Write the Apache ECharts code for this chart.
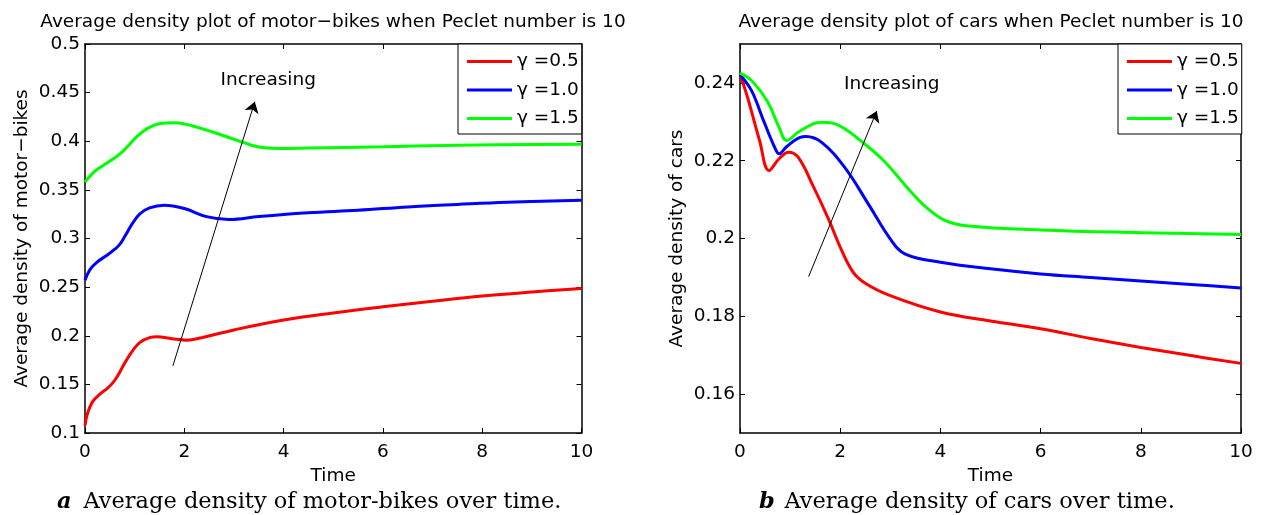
<!DOCTYPE html>
<html><head><meta charset="utf-8">
<script src="https://cdn.jsdelivr.net/npm/echarts@6/dist/echarts.min.js"></script>
<style>html,body{margin:0;padding:0;background:#fff}#c{width:1261px;height:515px}</style>
</head><body><div id="c"></div>
<script>
// ---------- data ----------
const seriesNames = ['γ =0.5', 'γ =1.0', 'γ =1.5'];
const seriesColors = ['#ff0000', '#0000ff', '#00ff00'];

// Plot a: motor-bikes
const bikeRedT   = [0, 0.05, 0.15, 0.3, 0.45, 0.55, 0.65, 0.8, 0.95, 1.1, 1.3, 1.45, 1.75, 2.05, 2.35, 3.0, 4.0, 5.0, 6.0, 7.0, 8.0, 9.0, 10];
const bikeRedV   = [0.108, 0.12, 0.132, 0.14, 0.146, 0.151, 0.158, 0.172, 0.184, 0.193, 0.198, 0.199, 0.197, 0.1955, 0.198, 0.206, 0.2162, 0.2235, 0.2298, 0.2355, 0.2408, 0.245, 0.2487];
const bikeBlueT  = [0, 0.1, 0.25, 0.45, 0.6, 0.7, 0.8, 0.95, 1.1, 1.3, 1.6, 2.0, 2.45, 2.9, 3.5, 4.5, 5.5, 6.5, 7.5, 8.5, 10];
const bikeBlueV  = [0.257, 0.268, 0.276, 0.283, 0.289, 0.294, 0.302, 0.315, 0.325, 0.3315, 0.3342, 0.3308, 0.3225, 0.3195, 0.3225, 0.3265, 0.329, 0.3325, 0.335, 0.3372, 0.3393];
const bikeGreenT = [0, 0.15, 0.3, 0.45, 0.6, 0.75, 0.9, 1.05, 1.25, 1.5, 1.8, 2.15, 2.6, 3.15, 3.5, 3.9, 4.5, 6.0, 7.5, 10];
const bikeGreenV = [0.358, 0.367, 0.373, 0.378, 0.383, 0.389, 0.397, 0.405, 0.413, 0.418, 0.419, 0.416, 0.409, 0.3995, 0.394, 0.3926, 0.393, 0.3943, 0.396, 0.397];

// Plot b: cars
const carRedT   = [0, 0.15, 0.39, 0.58, 0.78, 0.97, 1.16, 1.47, 1.78, 2.0, 2.25, 2.5, 3.0, 4.0, 5.0, 6.0, 7.0, 8.0, 9.0, 10];
const carRedV   = [0.2423, 0.2363, 0.2252, 0.2175, 0.2205, 0.2222, 0.2209, 0.2132, 0.2046, 0.1978, 0.1915, 0.1885, 0.1853, 0.1811, 0.1788, 0.1768, 0.1743, 0.172, 0.1699, 0.1679];
const carBlueT  = [0, 0.23, 0.47, 0.7, 0.78, 0.93, 1.2, 1.32, 1.63, 2.09, 2.56, 3.02, 3.3, 4.0, 5.0, 6.0, 7.0, 8.0, 9.0, 10];
const carBlueV  = [0.2421, 0.238, 0.2303, 0.2232, 0.2218, 0.2236, 0.226, 0.2262, 0.2247, 0.2183, 0.2089, 0.1995, 0.196, 0.1939, 0.1922, 0.1909, 0.19, 0.1891, 0.1882, 0.1873];
const carGreenT = [0, 0.23, 0.54, 0.78, 0.93, 1.16, 1.47, 1.63, 1.94, 2.4, 2.87, 3.33, 3.72, 4.1, 4.57, 6.0, 8.0, 10];
const carGreenV = [0.2425, 0.2406, 0.2354, 0.2286, 0.2252, 0.2273, 0.2295, 0.2299, 0.2293, 0.2252, 0.22, 0.2132, 0.208, 0.2046, 0.2032, 0.2022, 0.2015, 0.201];

// axis ticks
const xTicks = [0, 2, 4, 6, 8, 10];
const bikeYTicks = [0.1, 0.15, 0.2, 0.25, 0.3, 0.35, 0.4, 0.45, 0.5];
const carYTicks = [0.16, 0.18, 0.2, 0.22, 0.24];

// annotations (data units)
const bikeArrow = [[1.77, 0.169], [3.42, 0.4407]];
const bikeTextPos = [3.69, 0.463];
const carArrow = [[1.37, 0.1902], [2.73, 0.2328]];
const carTextPos = [3.03, 0.2397];

// texts
const titleA = 'Average density plot of motor\u2212bikes when Peclet number is 10';
const titleB = 'Average density plot of cars when Peclet number is 10';
const yNameA = 'Average density of motor\u2212bikes';
const yNameB = 'Average density of cars';
const captionA = 'Average density of motor-bikes over time.';
const captionB = 'Average density of cars over time.';

// ---------- chart ----------
const FONT = 'DejaVu Sans';
const FS = 18.5;
const zip = (t, v) => t.map((x, i) => [x, v[i]]);

function xAxes(grid) {
  const base = {
    gridIndex: grid, type: 'value', min: 0, max: 10, interval: 2,
    axisLine: { show: true, onZero: false, lineStyle: { color: '#000', width: 1.5 } },
    axisTick: { show: true, inside: true, length: 5, lineStyle: { color: '#000', width: 1 } },
    splitLine: { show: false }
  };
  return [
    Object.assign({}, base, {
      position: 'bottom',
      axisLabel: { show: true, color: '#000', fontSize: FS, fontFamily: FONT, margin: 10,
        customValues: xTicks },
      name: 'Time', nameLocation: 'middle', nameGap: 28,
      nameTextStyle: { color: '#000', fontSize: FS, fontFamily: FONT }
    }),
    Object.assign({}, base, { position: 'top', axisLabel: { show: false } })
  ];
}

function yAxes(grid, min, max, ticks, name) {
  const base = {
    gridIndex: grid, type: 'value', min: min, max: max,
    axisLine: { show: true, onZero: false, lineStyle: { color: '#000', width: 1.5 } },
    axisTick: { show: true, inside: true, length: 5, lineStyle: { color: '#000', width: 1 }, customValues: ticks },
    splitLine: { show: false }
  };
  return [
    Object.assign({}, base, {
      position: 'left',
      axisLabel: { show: true, color: '#000', fontSize: FS, fontFamily: FONT, margin: 5, customValues: ticks },
      name: name, nameLocation: 'middle', nameGap: 53,
      nameTextStyle: { color: '#000', fontSize: FS, fontFamily: FONT }
    }),
    Object.assign({}, base, { position: 'right', axisLabel: { show: false } })
  ];
}

function lineSeries(name, color, t, v, xi, yi) {
  return {
    type: 'line', name: name, xAxisIndex: xi, yAxisIndex: yi,
    data: zip(t, v), symbol: 'none', showSymbol: false, smooth: 0.4,
    lineStyle: { color: color, width: 3 }, itemStyle: { color: color },
    emphasis: { disabled: true }, silent: true, animation: false
  };
}

function annotate(series, arrow, textPos) {
  series.markLine = {
    silent: true, animation: false,
    symbol: ['none', 'arrow'], symbolSize: 11,
    lineStyle: { color: '#000', width: 1, type: 'solid' },
    itemStyle: { color: '#000' },
    label: { show: false },
    emphasis: { disabled: true },
    data: [[{ coord: arrow[0] }, { coord: arrow[1] }]]
  };
  series.markPoint = {
    silent: true, animation: false,
    symbol: 'circle', symbolSize: 0,
    itemStyle: { color: 'rgba(0,0,0,0)' },
    label: { show: true, position: 'inside', formatter: 'Increasing', color: '#000', fontSize: FS, fontFamily: FONT },
    data: [{ coord: textPos }]
  };
  return series;
}

const series = [
  lineSeries(seriesNames[0], seriesColors[0], bikeRedT, bikeRedV, 0, 0),
  lineSeries(seriesNames[1], seriesColors[1], bikeBlueT, bikeBlueV, 0, 0),
  annotate(lineSeries(seriesNames[2], seriesColors[2], bikeGreenT, bikeGreenV, 0, 0), bikeArrow, bikeTextPos),
  lineSeries(seriesNames[0], seriesColors[0], carRedT, carRedV, 2, 2),
  lineSeries(seriesNames[1], seriesColors[1], carBlueT, carBlueV, 2, 2),
  annotate(lineSeries(seriesNames[2], seriesColors[2], carGreenT, carGreenV, 2, 2), carArrow, carTextPos)
];

function legend(left) {
  return {
    left: left, top: 44, orient: 'vertical', data: seriesNames,
    icon: 'rect', itemWidth: 45, itemHeight: 3, itemGap: 9.5,
    padding: [8, 3, 6, 9],
    borderColor: '#000', borderWidth: 1, backgroundColor: '#fff',
    selectedMode: false,
    textStyle: { color: '#000', fontSize: FS, fontFamily: FONT }
  };
}

const chart = echarts.init(document.getElementById('c'), null, { renderer: 'canvas' });
chart.setOption({
  animation: false,
  backgroundColor: '#fff',
  grid: [
    { left: 85, top: 44, width: 496.5, height: 389 },
    { left: 740, top: 44, width: 501, height: 389 }
  ],
  xAxis: [].concat(xAxes(0), xAxes(1)),
  yAxis: [].concat(
    yAxes(0, 0.1, 0.5, bikeYTicks, yNameA),
    yAxes(1, 0.15, 0.25, carYTicks, yNameB)
  ),
  legend: [legend(458), legend(1118)],
  series: series,
  graphic: [
    { type: 'text', x: 333, y: 22, silent: true,
      style: { text: titleA, fill: '#000', font: FS + 'px "' + FONT + '"', textAlign: 'center', textVerticalAlign: 'middle' } },
    { type: 'text', x: 991, y: 22, silent: true,
      style: { text: titleB, fill: '#000', font: FS + 'px "' + FONT + '"', textAlign: 'center', textVerticalAlign: 'middle' } },
    { type: 'text', x: 57, y: 502, silent: true,
      style: { text: 'a', fill: '#000', font: 'italic bold 22.5px "DejaVu Serif"', textAlign: 'left', textVerticalAlign: 'middle' } },
    { type: 'text', x: 83.5, y: 502, silent: true,
      style: { text: captionA, fill: '#000', font: '22.5px "DejaVu Serif"', textAlign: 'left', textVerticalAlign: 'middle' } },
    { type: 'text', x: 759, y: 502, silent: true,
      style: { text: 'b', fill: '#000', font: 'italic bold 22.5px "DejaVu Serif"', textAlign: 'left', textVerticalAlign: 'middle' } },
    { type: 'text', x: 784.5, y: 502, silent: true,
      style: { text: captionB, fill: '#000', font: '22.5px "DejaVu Serif"', textAlign: 'left', textVerticalAlign: 'middle' } }
  ]
});
</script></body></html>
